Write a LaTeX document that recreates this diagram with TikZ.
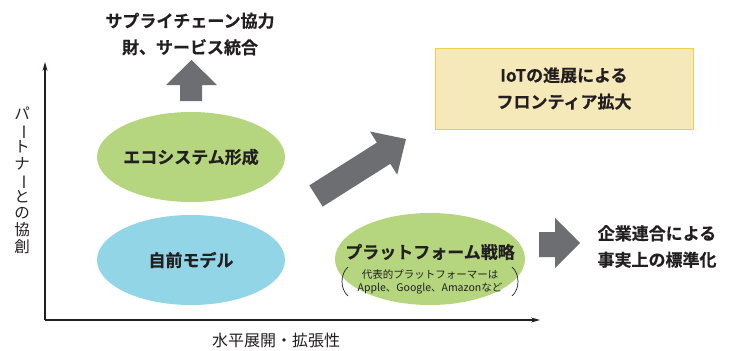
\documentclass[tikz,border=0pt]{standalone}
\usepackage{fontspec}
\setmainfont{Noto Sans CJK JP}
\newfontfamily\jpbold[FakeBold=0.4]{Noto Sans CJK JP Bold}
\usetikzlibrary{arrows.meta,shapes.geometric}
\definecolor{arrgray}{HTML}{6D6E71}
\definecolor{txt}{HTML}{231F20}
\definecolor{ellgreen}{HTML}{B5D67F}
\definecolor{ellblue}{HTML}{92D5E6}
\definecolor{boxfill}{HTML}{F6E9B9}
\definecolor{boxline}{HTML}{F0D048}
\newcommand{\vbar}{\rotatebox[origin=c]{-90}{ー}}
\begin{document}
\begin{tikzpicture}[x=1pt,y=-1pt,
  boldtxt/.style={text=txt,font=\jpbold\fontsize{17}{26.5}\selectfont,align=center,inner sep=0pt},
  plaintxt/.style={text=txt,font=\fontsize{16}{17}\selectfont,align=center,inner sep=0pt},
  ell/.style={ellipse,minimum width=188pt,minimum height=90pt,inner sep=0pt},
  blockarrow/.style={fill=arrgray,draw=none},
  axis/.style={draw=txt,line width=1.2pt,-{Stealth[length=9pt,width=5pt]}}]
\useasboundingbox (0,0) rectangle (729,351);
% axes
\coordinate (O) at (45,320);
\coordinate (Ytip) at (45,62);
\coordinate (Xtip) at (540,320);
\draw[axis] (O) -- (Ytip);
\draw[axis] (O) -- (Xtip);
% axis labels
\node[plaintxt,font=\fontsize{15.5}{16.6}\selectfont] (ylab) at (22,180)
  {パ\\\vbar\\ト\\ナ\\\vbar\\と\\の\\協\\創};
\node[plaintxt] (xlab) at (276,340) {水平展開・拡張性};
% top text and up arrow
\node[boldtxt] (top) at (190,34) {サプライチェーン協力\\財、サービス統合};
\fill[blockarrow] (180,101) -- (180,85) -- (166,85) -- (191.5,60) -- (217,85) -- (202,85) -- (202,101) -- cycle;
% ellipses
\node[ell,fill=ellgreen] (eco) at (191,157) {};
\node[boldtxt] at (eco.center) {エコシステム形成};
\node[ell,fill=ellblue] (own) at (191,260) {};
\node[boldtxt] at (own.center) {自前モデル};
% IoT box
\node[draw=boxline,fill=boxfill,line width=0.8pt,minimum width=258pt,minimum height=81pt] (iot) at (564,88.5) {};
\node[boldtxt] at (iot.center) {IoTの進展による\\フロンティア拡大};
% diagonal arrow
\fill[blockarrow] (322.7,206.6) -- (309.3,185.4) -- (376.9,142.6) -- (370.0,131.5) -- (406,139) -- (397.2,174.7) -- (390.3,163.8) -- cycle;
% platform ellipse
\node[ell,fill=ellgreen,minimum width=190pt,minimum height=92pt] (plat) at (430,259) {};
\node[boldtxt] (platT) at (430,252) {プラットフォーム戦略};
\node[text=txt,font=\fontsize{10.5}{13}\selectfont,align=center,inner sep=0pt] (platS) at (430,282)
  {代表的プラットフォーマーは\\Apple、Google、Amazonなど};
\draw[txt,line width=0.7pt] (348,267) .. controls (340,274) and (340,289) .. (348,296);
\draw[txt,line width=0.7pt] (512,267) .. controls (520,274) and (520,289) .. (512,296);
% right arrow
\fill[blockarrow] (539,232) -- (555,232) -- (555,218) -- (580,243) -- (555,268) -- (555,257) -- (539,257) -- cycle;
\node[boldtxt] (std) at (657,246.5) {企業連合による\\事実上の標準化};
\end{tikzpicture}
\end{document}
